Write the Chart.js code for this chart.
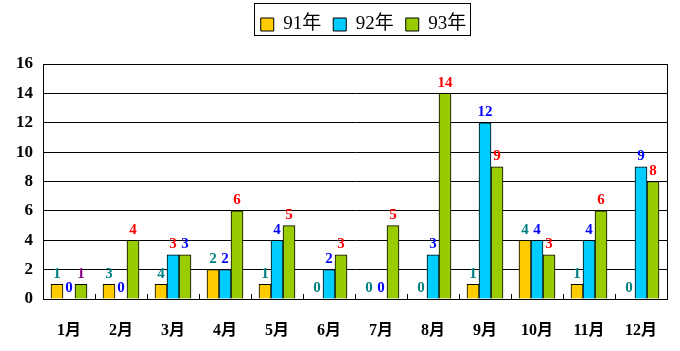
<!DOCTYPE html>
<html>
<head>
<meta charset="utf-8">
<script src="https://cdn.jsdelivr.net/npm/chart.js@4.4.1/dist/chart.umd.min.js"></script>
<style>
  html, body { margin: 0; padding: 0; background: #fff; }
  #wrap { width: 680px; height: 351px; }
</style>
</head>
<body>
<div id="wrap"><canvas id="chart" width="680" height="351"></canvas></div>
<script>
// data
const months = ["1月","2月","3月","4月","5月","6月","7月","8月","9月","10月","11月","12月"];
const seriesNames = ["91年", "92年", "93年"];
const y91 = [1, 1, 1, 2, 1, 0, 0, 0, 1, 4, 1, 0];
const y92 = [0, 0, 3, 2, 4, 2, 0, 3, 12, 4, 4, 9];
const y93 = [1, 4, 3, 6, 5, 3, 5, 14, 9, 3, 6, 8];
// value labels as printed on the original picture
const lbl91 = ["1","3","4","2","1","0","0","0","1","4","1","0"];
const lbl92 = ["0","0","3","2","4","2","0","3","12","4","4","9"];
const lbl93 = ["1","4","3","6","5","3","5","14","9","3","6","8"];
const yTicks = [0, 2, 4, 6, 8, 10, 12, 14, 16];

// styles
const barColors = ["#FFCC00", "#00CCFF", "#99CC00"];
const labelColors = ["#008080", "#0000FF", "#FF0000"];
const labelColorFix = { "2-0": "#800080", "1-2": "#FF0000", "2-2": "#0000FF" };
const serif = "'Liberation Serif', 'Noto Sans CJK JP', serif";

const valueLabels = {
  id: "valueLabels",
  afterDatasetsDraw(chart) {
    const ctx = chart.ctx;
    const texts = [lbl91, lbl92, lbl93];
    ctx.save();
    ctx.font = "bold 15px " + serif;
    ctx.textAlign = "center";
    ctx.textBaseline = "bottom";
    chart.data.datasets.forEach((ds, d) => {
      chart.getDatasetMeta(d).data.forEach((bar, i) => {
        ctx.fillStyle = labelColorFix[d + "-" + i] || labelColors[d];
        ctx.fillText(texts[d][i], bar.x, bar.y - 3);
      });
    });
    ctx.restore();
  }
};

// move the legend a bit right and up, like the original
const legendShift = {
  id: "legendShift",
  afterLayout(chart) {
    const lg = chart.legend;
    lg.left += 30; lg.right += 30;
    lg.top -= 20; lg.bottom -= 20;
  }
};

const frame = {
  id: "frame",
  afterDraw(chart) {
    const ctx = chart.ctx;
    const a = chart.chartArea;
    const x = chart.scales.x;
    ctx.save();
    ctx.strokeStyle = "#000";
    ctx.lineWidth = 1;
    ctx.strokeRect(Math.round(a.left) + 0.5, Math.round(a.top) + 0.5,
      Math.round(a.right - a.left), Math.round(a.bottom - a.top));
    // small category ticks along the bottom
    const step = x.getPixelForValue(1) - x.getPixelForValue(0);
    ctx.beginPath();
    for (let i = 1; i < months.length; i++) {
      const px = Math.round(x.getPixelForValue(i) - step / 2) + 0.5;
      ctx.moveTo(px, a.bottom);
      ctx.lineTo(px, a.bottom - 5);
    }
    ctx.stroke();
    // legend frame
    const boxes = chart.legend.legendHitBoxes;
    if (boxes && boxes.length) {
      const l = boxes[0].left - 7;
      const last = boxes[boxes.length - 1];
      const r = last.left + last.width + 3;
      ctx.strokeRect(Math.round(l) + 0.5, 3.5, Math.round(r - l), 32);
    }
    ctx.restore();
  }
};

new Chart(document.getElementById("chart"), {
  type: "bar",
  data: {
    labels: months,
    datasets: [
      { label: seriesNames[0], data: y91, backgroundColor: barColors[0] },
      { label: seriesNames[1], data: y92, backgroundColor: barColors[1] },
      { label: seriesNames[2], data: y93, backgroundColor: barColors[2] },
    ].map(ds => Object.assign(ds, {
      borderColor: "#000",
      borderWidth: 1,
      borderSkipped: "bottom",
      barThickness: 12
    }))
  },
  options: {
    responsive: false,
    animation: false,
    devicePixelRatio: 1,
    layout: { padding: { left: 0, right: 13, top: 23, bottom: 0 } },
    plugins: {
      tooltip: { enabled: false },
      legend: {
        position: "top",
        labels: {
          boxWidth: 13,
          boxHeight: 13,
          padding: 12,
          color: "#000",
          font: { family: serif, size: 19 },
          generateLabels(chart) {
            return chart.data.datasets.map((ds, i) => ({
              text: ds.label,
              fillStyle: barColors[i],
              strokeStyle: "#000",
              lineWidth: 1,
              datasetIndex: i
            }));
          }
        }
      }
    },
    scales: {
      x: {
        grid: { display: false },
        border: { display: false },
        ticks: { color: "#000", font: { family: serif, size: 16, weight: "bold" }, padding: 14, maxRotation: 0 },
        afterFit(scale) { scale.height = 52; }
      },
      y: {
        min: 0,
        max: 16,
        afterBuildTicks(scale) { scale.ticks = yTicks.map(v => ({ value: v })); },
        grid: { color: "#000", lineWidth: 1, drawTicks: false },
        border: { color: "#000" },
        ticks: { color: "#000", font: { family: serif, size: 17, weight: "bold" }, padding: 10 },
        afterFit(scale) { scale.width = 43; }
      }
    }
  },
  plugins: [legendShift, valueLabels, frame]
});
</script>
</body>
</html>
